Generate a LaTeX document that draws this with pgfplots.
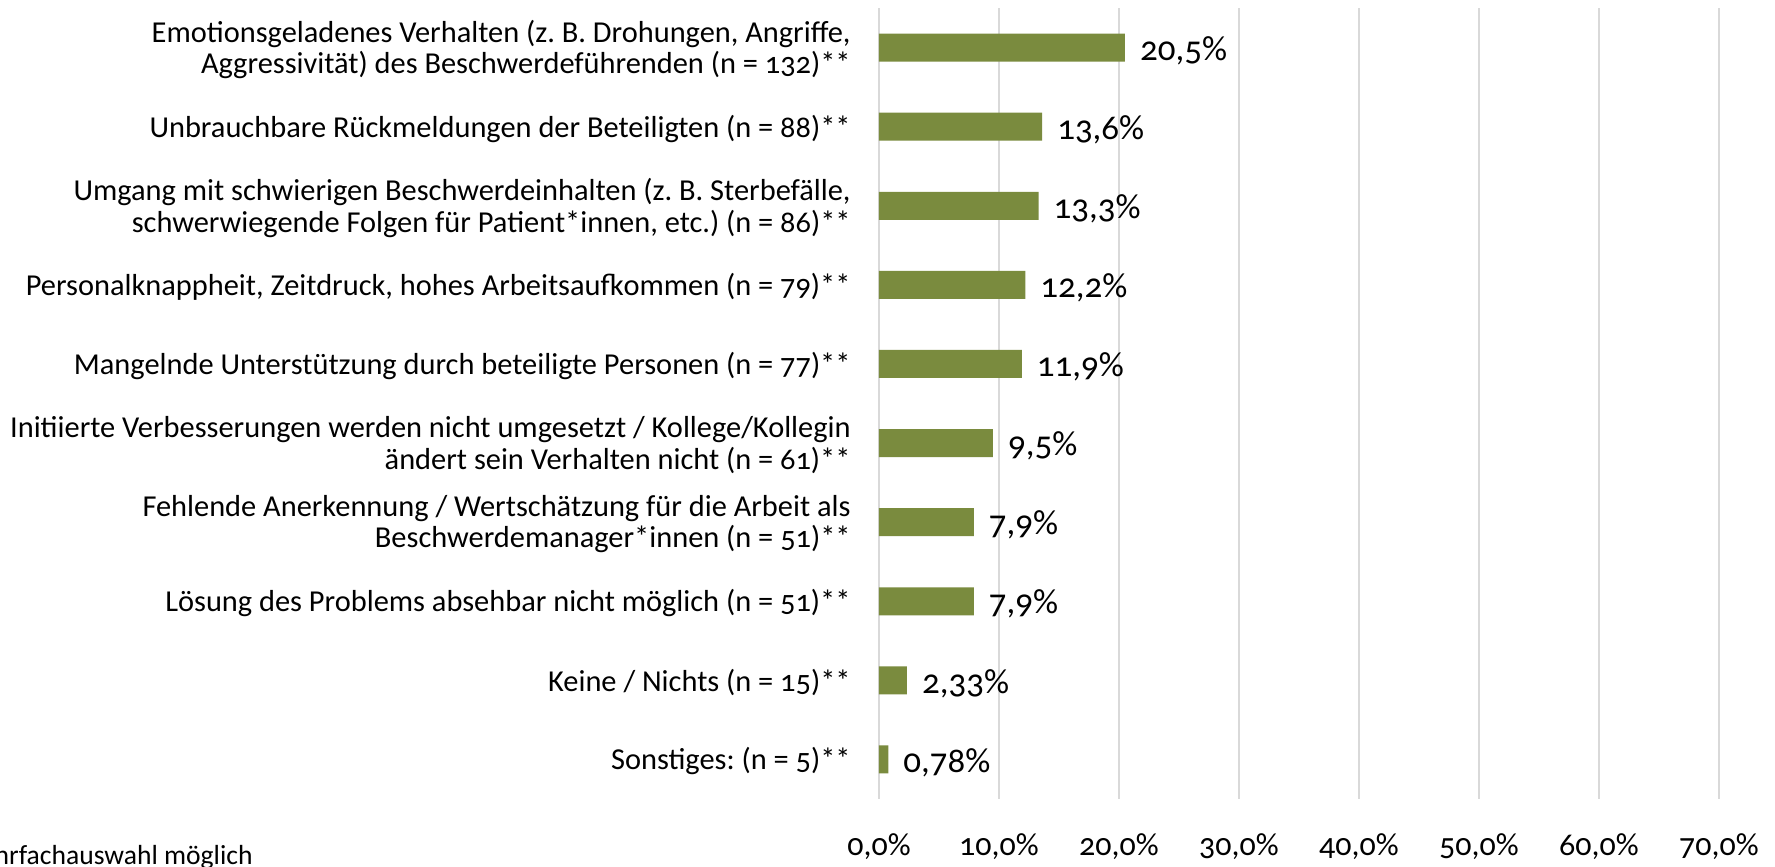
\documentclass[border=0pt]{standalone}
\usepackage{fontspec}
\setmainfont{Carlito}[Numbers=OldStyle]
\usepackage{pgfplots}
\pgfplotsset{compat=1.18}
\usepackage{pgfplotstable}
\definecolor{barc}{RGB}{122,139,62}
\definecolor{gridc}{RGB}{217,217,217}
\frenchspacing

\pgfplotstableread[col sep=semicolon]{
y;val;lab
0;20.5;20,5
1;13.6;13,6
2;13.3;13,3
3;12.2;12,2
4;11.9;11,9
5;9.5;9,5
6;7.9;7,9
7;7.9;7,9
8;2.33;2,33
9;0.78;0,78
}\data

\begin{document}
\begin{tikzpicture}
\begin{axis}[
 scale only axis, width=420pt, height=395.5pt,
 xmin=0, xmax=70, ymin=-0.5, ymax=9.5, y dir=reverse,
 axis line style={draw=none},
 xmajorgrids, grid style={gridc, line width=1.2pt},
 xtick={0,10,...,70},
 major tick length=0pt,
 ytick={0,...,9},
 yticklabels={
  {Emotionsgeladenes Verhalten (z. B. Drohungen, Angriffe,\\Aggressivität) des Beschwerdeführenden (n = 132)**},
  {Unbrauchbare Rückmeldungen der Beteiligten (n = 88)**},
  {Umgang mit schwierigen Beschwerdeinhalten (z. B. Sterbefälle,\\schwerwiegende Folgen für Patient*innen, etc.) (n = 86)**},
  {Personalknappheit, Zeitdruck, hohes Arbeitsaufkommen (n = 79)**},
  {Mangelnde Unterstützung durch beteiligte Personen (n = 77)**},
  {Initiierte Verbesserungen werden nicht umgesetzt / Kollege/Kollegin\\ändert sein Verhalten nicht (n = 61)**},
  {Fehlende Anerkennung / Wertschätzung für die Arbeit als\\Beschwerdemanager*innen (n = 51)**},
  {Lösung des Problems absehbar nicht möglich (n = 51)**},
  {Keine / Nichts (n = 15)**},
  {Sonstiges: (n = 5)**}
 },
 yticklabel style={align=right, font=\fontsize{15.2}{15.8}\selectfont\frenchspacing, inner sep=0pt, xshift=-14pt, yshift=-1pt},
 xticklabel style={font=\fontsize{16}{18}\selectfont, yshift=-14pt},
 xticklabel={\pgfmathprintnumber[fixed,fixed zerofill,precision=1,use comma,assume math mode=true]{\tick}\%},
 clip=false,
]
\addplot[xbar, bar width=14pt, fill=barc, draw=none,
  nodes near coords={\pgfplotspointmeta\%}, point meta=explicit symbolic,
  nodes near coords style={font=\fontsize{17.5}{19}\selectfont, anchor=west, xshift=4pt, yshift=-1.5pt}]
  table[x=val, y=y, meta=lab]{\data};
\end{axis}
\path ([shift={(-439.5pt,-33pt)}]current axis.south west) rectangle ([shift={(448pt,399.5pt)}]current axis.south west);
\node[overlay, anchor=east, inner sep=0pt, font=\fontsize{13.8}{15}\selectfont] at ([shift={(-313pt,-29pt)}]current axis.south west) {** Mehrfachauswahl möglich};
\end{tikzpicture}
\end{document}
